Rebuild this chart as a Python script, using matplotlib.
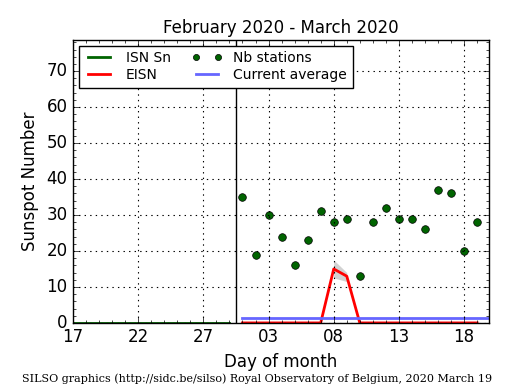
import datetime as dt
import numpy as np
import matplotlib
matplotlib.use('Agg')
import matplotlib.pyplot as plt
import matplotlib.dates as mdates

# data
prev_days = [dt.datetime(2020, 2, 17) + dt.timedelta(days=i) for i in range(13)]
isn_sn = [0] * 13

cur_days = [dt.datetime(2020, 3, d) for d in range(1, 20)]
nb_stations = [35, 19, 30, 24, 16, 23, 31, 28, 29, 13, 28, 32, 29, 29, 26, 37, 36, 20, 28]
eisn = [0, 0, 0, 0, 0, 0, 0, 15, 13, 0, 0, 0, 0, 0, 0, 0, 0, 0, 0]

band_days = [dt.datetime(2020, 3, 8), dt.datetime(2020, 3, 9)]
band_lo = [12.5, 11.5]
band_hi = [17.5, 14.0]

avg_value = 1.3
avg_start = dt.datetime(2020, 3, 1)
avg_end = dt.datetime(2020, 3, 20)
month_split = dt.datetime(2020, 2, 29, 12)

tick_days = [dt.datetime(2020, 2, 17), dt.datetime(2020, 2, 22), dt.datetime(2020, 2, 27),
             dt.datetime(2020, 3, 3), dt.datetime(2020, 3, 8), dt.datetime(2020, 3, 13),
             dt.datetime(2020, 3, 18)]

plt.style.use('classic')
fig = plt.figure(figsize=(5.15, 3.9), dpi=100)
ax = fig.add_axes([0.1417, 0.172, 0.808, 0.725])

ax.plot(prev_days, isn_sn, color='darkgreen', lw=2, label='ISN Sn')
ax.plot(cur_days, eisn, color='red', lw=2, label='EISN')
ax.fill_between(band_days, band_lo, band_hi, color='gray', alpha=0.35, lw=0)
ax.plot(cur_days, nb_stations, 'o', color='darkgreen', ms=5.5, mec='black', mew=0.5,
        label='Nb stations')
ax.plot([avg_start, avg_end], [avg_value, avg_value], color='#6666ff', lw=2,
        label='Current average')
ax.axvline(month_split, color='black', lw=1)

ax.set_xlim(dt.datetime(2020, 2, 17), dt.datetime(2020, 3, 19, 22))
ax.set_ylim(0, 78.6)
ax.set_xticks(tick_days)
ax.xaxis.set_minor_locator(mdates.DayLocator())
ax.xaxis.set_major_formatter(mdates.DateFormatter('%d'))
ax.set_yticks(np.arange(0, 71, 10))
ax.set_yticks(np.arange(0, 79, 2), minor=True)
ax.grid(True, which='major', color='black', ls=(0, (1, 3)), lw=0.8)
ax.tick_params(labelsize=12)

ax.set_title('February 2020 - March 2020', fontsize=12)
ax.set_xlabel('Day of month', fontsize=12)
ax.set_ylabel('Sunspot Number', fontsize=12)

ax.legend(loc='upper left', ncol=2, fontsize=10, numpoints=2, markerscale=0.8,
          handlelength=2.2, borderaxespad=0.4, columnspacing=1.5, handletextpad=0.8,
          labelspacing=0.2)

fig.text(0.5, 0.02, 'SILSO graphics (http://sidc.be/silso) Royal Observatory of Belgium, 2020 March 19',
         ha='center', fontsize=8, family='DejaVu Serif')

fig.savefig('out.png', dpi=100, facecolor='white')
